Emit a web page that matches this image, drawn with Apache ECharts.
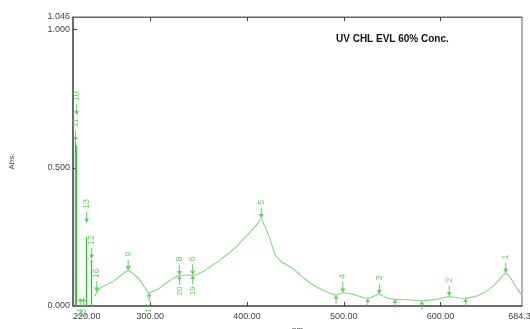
<!DOCTYPE html>
<html><head><meta charset="utf-8">
<script src="https://cdn.jsdelivr.net/npm/echarts@6/dist/echarts.min.js"></script>
<style>html,body{margin:0;padding:0;background:#fff}#c{width:530px;height:329px}</style>
</head><body><div id="c"></div>
<script>
// Spectrum curve (nm, Abs)
const curveNm = [242,245,248,255,262,270,277,283,289,294,298.7,304,310,317,323.5,330,337,343.8,350,356,362,368.6,375,382,389,395.4,402.6,409,414.7,418,423,427,430,435,440.5,445,450.8,456,461,466,471.4,481.8,492,499,509,517,524.7,530,536.8,543,553,567.7,580.8,595.3,603,609,617,626,633,640,647,653.7,660,664,667.5,671,676,680,684.3];
const curveAbs = [0.035,0.05,0.064,0.078,0.09,0.112,0.128,0.115,0.094,0.068,0.048,0.055,0.066,0.085,0.1,0.11,0.112,0.111,0.117,0.128,0.142,0.157,0.175,0.193,0.215,0.239,0.265,0.29,0.316,0.29,0.25,0.205,0.18,0.162,0.15,0.14,0.125,0.108,0.094,0.082,0.07,0.052,0.04,0.047,0.043,0.034,0.028,0.034,0.042,0.032,0.024,0.022,0.019,0.024,0.03,0.034,0.03,0.028,0.032,0.04,0.052,0.07,0.092,0.108,0.118,0.108,0.082,0.06,0.038];
// Sharp spikes at short wavelengths
const spikeNm = [222.1, 223.2, 234.1, 239.3];
const spikeAbs = [0.595, 0.58, 0.25, 0.167];
// Peak picks
const peakNm = [667.5, 609, 536.8, 499, 414.7, 343.8, 330, 277, 223.8, 222.5, 239.3, 234.1, 244.5];
const peakAbs = [0.118, 0.034, 0.042, 0.047, 0.316, 0.111, 0.11, 0.128, 0.69, 0.595, 0.17, 0.30, 0.05];
const peakLabel = ['1','2','3','4','5','6','8','9','10','11','12','13','16'];
// Valley picks
const valleyNm = [227.5, 231, 298.7, 330, 343.8, 492, 524.7, 553, 580.8, 626];
const valleyAbs = [0.03, 0.03, 0.048, 0.11, 0.111, 0.04, 0.028, 0.024, 0.019, 0.028];
const valleyLabel = ['14','15','17','20','19','','','','',''];
// Axis ticks
const xLabelValues = [220, 300, 400, 500, 600, 684.3];
const xTickValues = [300, 400, 500, 600];
const yLabelValues = [0, 0.5, 1.0, 1.046];
const yTickValues = [0.5, 1.0];

const green = '#3dc43d';
const downArrow = 'path://M2,0 L3,0 L3,7 L5,7 L2.5,12 L0,7 L2,7 Z';
const upArrow = 'path://M2.5,0 L5,5 L3,5 L3,12 L2,12 L2,5 L0,5 Z';

const chart = echarts.init(document.getElementById('c'), null, {renderer: 'canvas'});
const axisFont = {color: '#444', fontSize: 9, fontFamily: 'Liberation Sans, Arial, sans-serif'};
chart.setOption({
  animation: false,
  title: {text: 'UV CHL EVL 60% Conc.', left: 331, top: 29,
    textStyle: {fontSize: 10, fontWeight: 'bold', color: '#111', fontFamily: 'Liberation Sans, Arial, sans-serif'}},
  grid: {left: 73, right: 8, top: 17, bottom: 23, containLabel: false, outerBoundsMode: 'none',
    show: true, borderColor: '#666', borderWidth: 1},
  xAxis: [{
    type: 'value', min: 220, max: 684.3, position: 'bottom',
    name: 'nm', nameLocation: 'middle', nameGap: 17,
    nameTextStyle: {fontSize: 8, color: '#444', fontFamily: 'Liberation Sans, Arial, sans-serif'},
    axisLine: {show: true, lineStyle: {color: '#555', width: 1.5}},
    axisTick: {show: true, inside: true, length: 4, customValues: xTickValues, lineStyle: {color: '#444'}},
    axisLabel: Object.assign({customValues: xLabelValues, margin: 6, alignMinLabel: 'left',
      formatter: v => Number(v).toFixed(2)}, axisFont),
    splitLine: {show: false}
  }, {
    type: 'value', min: 220, max: 684.3, position: 'top',
    axisLine: {show: true, lineStyle: {color: '#666'}},
    axisTick: {show: true, inside: true, length: 4, customValues: xTickValues, lineStyle: {color: '#444'}},
    axisLabel: {show: false}, splitLine: {show: false}
  }],
  yAxis: {
    type: 'value', min: 0, max: 1.046,
    name: 'Abs.', nameLocation: 'middle', nameGap: 57, nameRotate: 90,
    nameTextStyle: {fontSize: 8, color: '#444', fontFamily: 'Liberation Sans, Arial, sans-serif'},
    axisLine: {show: true, lineStyle: {color: '#555', width: 1.5}},
    axisTick: {show: true, inside: true, length: 4, customValues: yTickValues, lineStyle: {color: '#444'}},
    axisLabel: Object.assign({customValues: yLabelValues, margin: 3, formatter: v => Number(v).toFixed(3)}, axisFont),
    splitLine: {show: false}
  },
  series: [{
    type: 'line', name: 'spectrum',
    data: curveNm.map((x, i) => [x, curveAbs[i]]),
    symbol: 'none', smooth: 0.3,
    lineStyle: {color: '#86d886', width: 1.1},
    markLine: {
      silent: true, symbol: 'none', label: {show: false},
      lineStyle: {color: '#3fbf3f', width: 1.4, type: 'solid'},
      data: spikeNm.map((x, i) => [{coord: [x, 0]}, {coord: [x, spikeAbs[i]]}])
    }
  }, {
    type: 'scatter', name: 'peaks',
    data: peakNm.map((x, i) => ({value: [x, peakAbs[i]], name: peakLabel[i]})),
    symbol: downArrow, symbolSize: [5, 11], symbolOffset: [0, '-50%'],
    itemStyle: {color: green},
    label: {show: true, position: 'top', rotate: 90, align: 'left', verticalAlign: 'middle', distance: 3,
      formatter: p => p.name, color: green, fontSize: 9, fontFamily: 'Liberation Sans, Arial, sans-serif'}
  }, {
    type: 'scatter', name: 'valleys',
    data: valleyNm.map((x, i) => ({value: [x, valleyAbs[i]], name: valleyLabel[i]})),
    symbol: upArrow, symbolSize: [5, 9], symbolOffset: [0, '50%'],
    itemStyle: {color: green},
    label: {show: true, position: 'bottom', rotate: 90, align: 'right', verticalAlign: 'middle', distance: 2,
      formatter: p => p.name, color: green, fontSize: 8, fontFamily: 'Liberation Sans, Arial, sans-serif'}
  }]
});
</script></body></html>
